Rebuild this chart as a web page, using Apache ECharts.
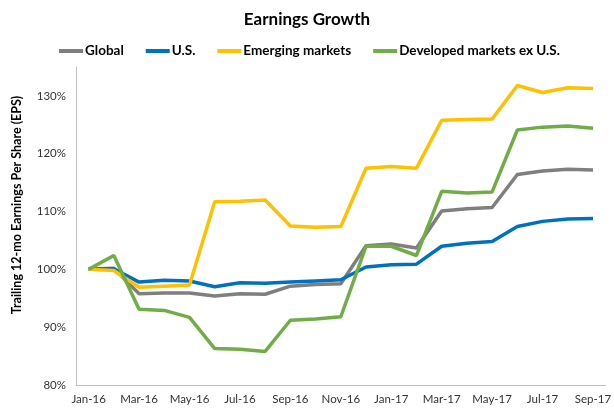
<!DOCTYPE html>
<html>
<head>
<meta charset="utf-8">
<script src="https://cdn.jsdelivr.net/npm/echarts@6/dist/echarts.min.js"></script>
<style>
  html, body { margin: 0; padding: 0; background: #fff; }
  #chart { width: 614px; height: 411px; }
</style>
</head>
<body>
<div id="chart"></div>
<script>
// months Jan-16 .. Sep-17
var months = ["Jan-16", "Feb-16", "Mar-16", "Apr-16", "May-16", "Jun-16", "Jul-16",
  "Aug-16", "Sep-16", "Oct-16", "Nov-16", "Dec-16", "Jan-17", "Feb-17", "Mar-17",
  "Apr-17", "May-17", "Jun-17", "Jul-17", "Aug-17", "Sep-17"];

var seriesNames = ["Global", "U.S.", "Emerging markets", "Developed markets ex U.S."];

var globalEps = [100, 100.2, 95.8, 95.9, 95.9, 95.4, 95.8, 95.7, 97.1, 97.4, 97.5,
  104.1, 104.4, 103.7, 110.1, 110.5, 110.7, 116.4, 117.0, 117.3, 117.2];
var usEps = [100, 100.1, 97.8, 98.1, 98.0, 97.0, 97.7, 97.6, 97.8, 98.0, 98.2,
  100.4, 100.8, 100.9, 104.0, 104.5, 104.8, 107.4, 108.3, 108.7, 108.8];
var emEps = [100, 99.8, 96.9, 97.1, 97.3, 111.7, 111.8, 112.0, 107.5, 107.3, 107.4,
  117.5, 117.8, 117.5, 125.8, 125.9, 126.0, 131.8, 130.6, 131.4, 131.3];
var dmExUsEps = [100, 102.4, 93.1, 92.9, 91.7, 86.3, 86.2, 85.8, 91.2, 91.4, 91.8,
  104.0, 104.0, 102.4, 113.5, 113.2, 113.4, 124.1, 124.6, 124.8, 124.4];

var colors = ["#7f7f7f", "#0070c0", "#ffc000", "#70ad47"];
var fontFamily = "Lato, 'Open Sans', sans-serif";

var chart = echarts.init(document.getElementById("chart"));

function lineSeries(name, data, color) {
  return {
    name: name,
    type: "line",
    data: data,
    symbol: "none",
    lineStyle: { width: 3.5, color: color },
    itemStyle: { color: color },
    animation: false
  };
}

var option = {
  backgroundColor: "#fff",
  title: {
    text: "Earnings Growth",
    left: "center",
    top: 6,
    textStyle: { fontFamily: fontFamily, fontSize: 17, fontWeight: "bold", color: "#000" }
  },
  legend: {
    data: seriesNames,
    top: 39,
    left: 54,
    icon: "rect",
    itemWidth: 24,
    itemHeight: 4,
    itemGap: 22,
    textStyle: { fontFamily: fontFamily, fontSize: 13.5, fontWeight: "bold", color: "#000", padding: [0, 0, 0, -3] }
  },
  grid: { left: 76, right: 1, top: 67, bottom: 26, containLabel: false },
  xAxis: {
    type: "category",
    data: months,
    boundaryGap: true,
    axisLine: { lineStyle: { color: "#bfbfbf", width: 1 } },
    axisTick: { show: false },
    axisLabel: {
      interval: 1,
      margin: 8,
      fontFamily: fontFamily,
      fontSize: 11.5,
      color: "#333"
    }
  },
  yAxis: {
    type: "value",
    min: 80,
    max: 135,
    interval: 10,
    splitLine: { show: false },
    axisLine: { show: true, lineStyle: { color: "#bfbfbf", width: 1 } },
    axisTick: { show: false },
    axisLabel: {
      showMaxLabel: false,
      margin: 10,
      fontFamily: fontFamily,
      fontSize: 11.5,
      color: "#333",
      formatter: function (v) { return v % 10 === 0 ? v + "%" : ""; }
    }
  },
  graphic: [{
    type: "text",
    x: 17,
    y: 205,
    rotation: Math.PI / 2,
    style: {
      text: "Trailing 12-mo Earnings Per Share (EPS)",
      fontFamily: fontFamily,
      fontSize: 12.5,
      fontWeight: "bold",
      fill: "#000",
      textAlign: "center",
      textVerticalAlign: "middle"
    }
  }],
  series: [
    lineSeries(seriesNames[0], globalEps, colors[0]),
    lineSeries(seriesNames[1], usEps, colors[1]),
    lineSeries(seriesNames[2], emEps, colors[2]),
    lineSeries(seriesNames[3], dmExUsEps, colors[3])
  ]
};

chart.setOption(option);
</script>
</body>
</html>
